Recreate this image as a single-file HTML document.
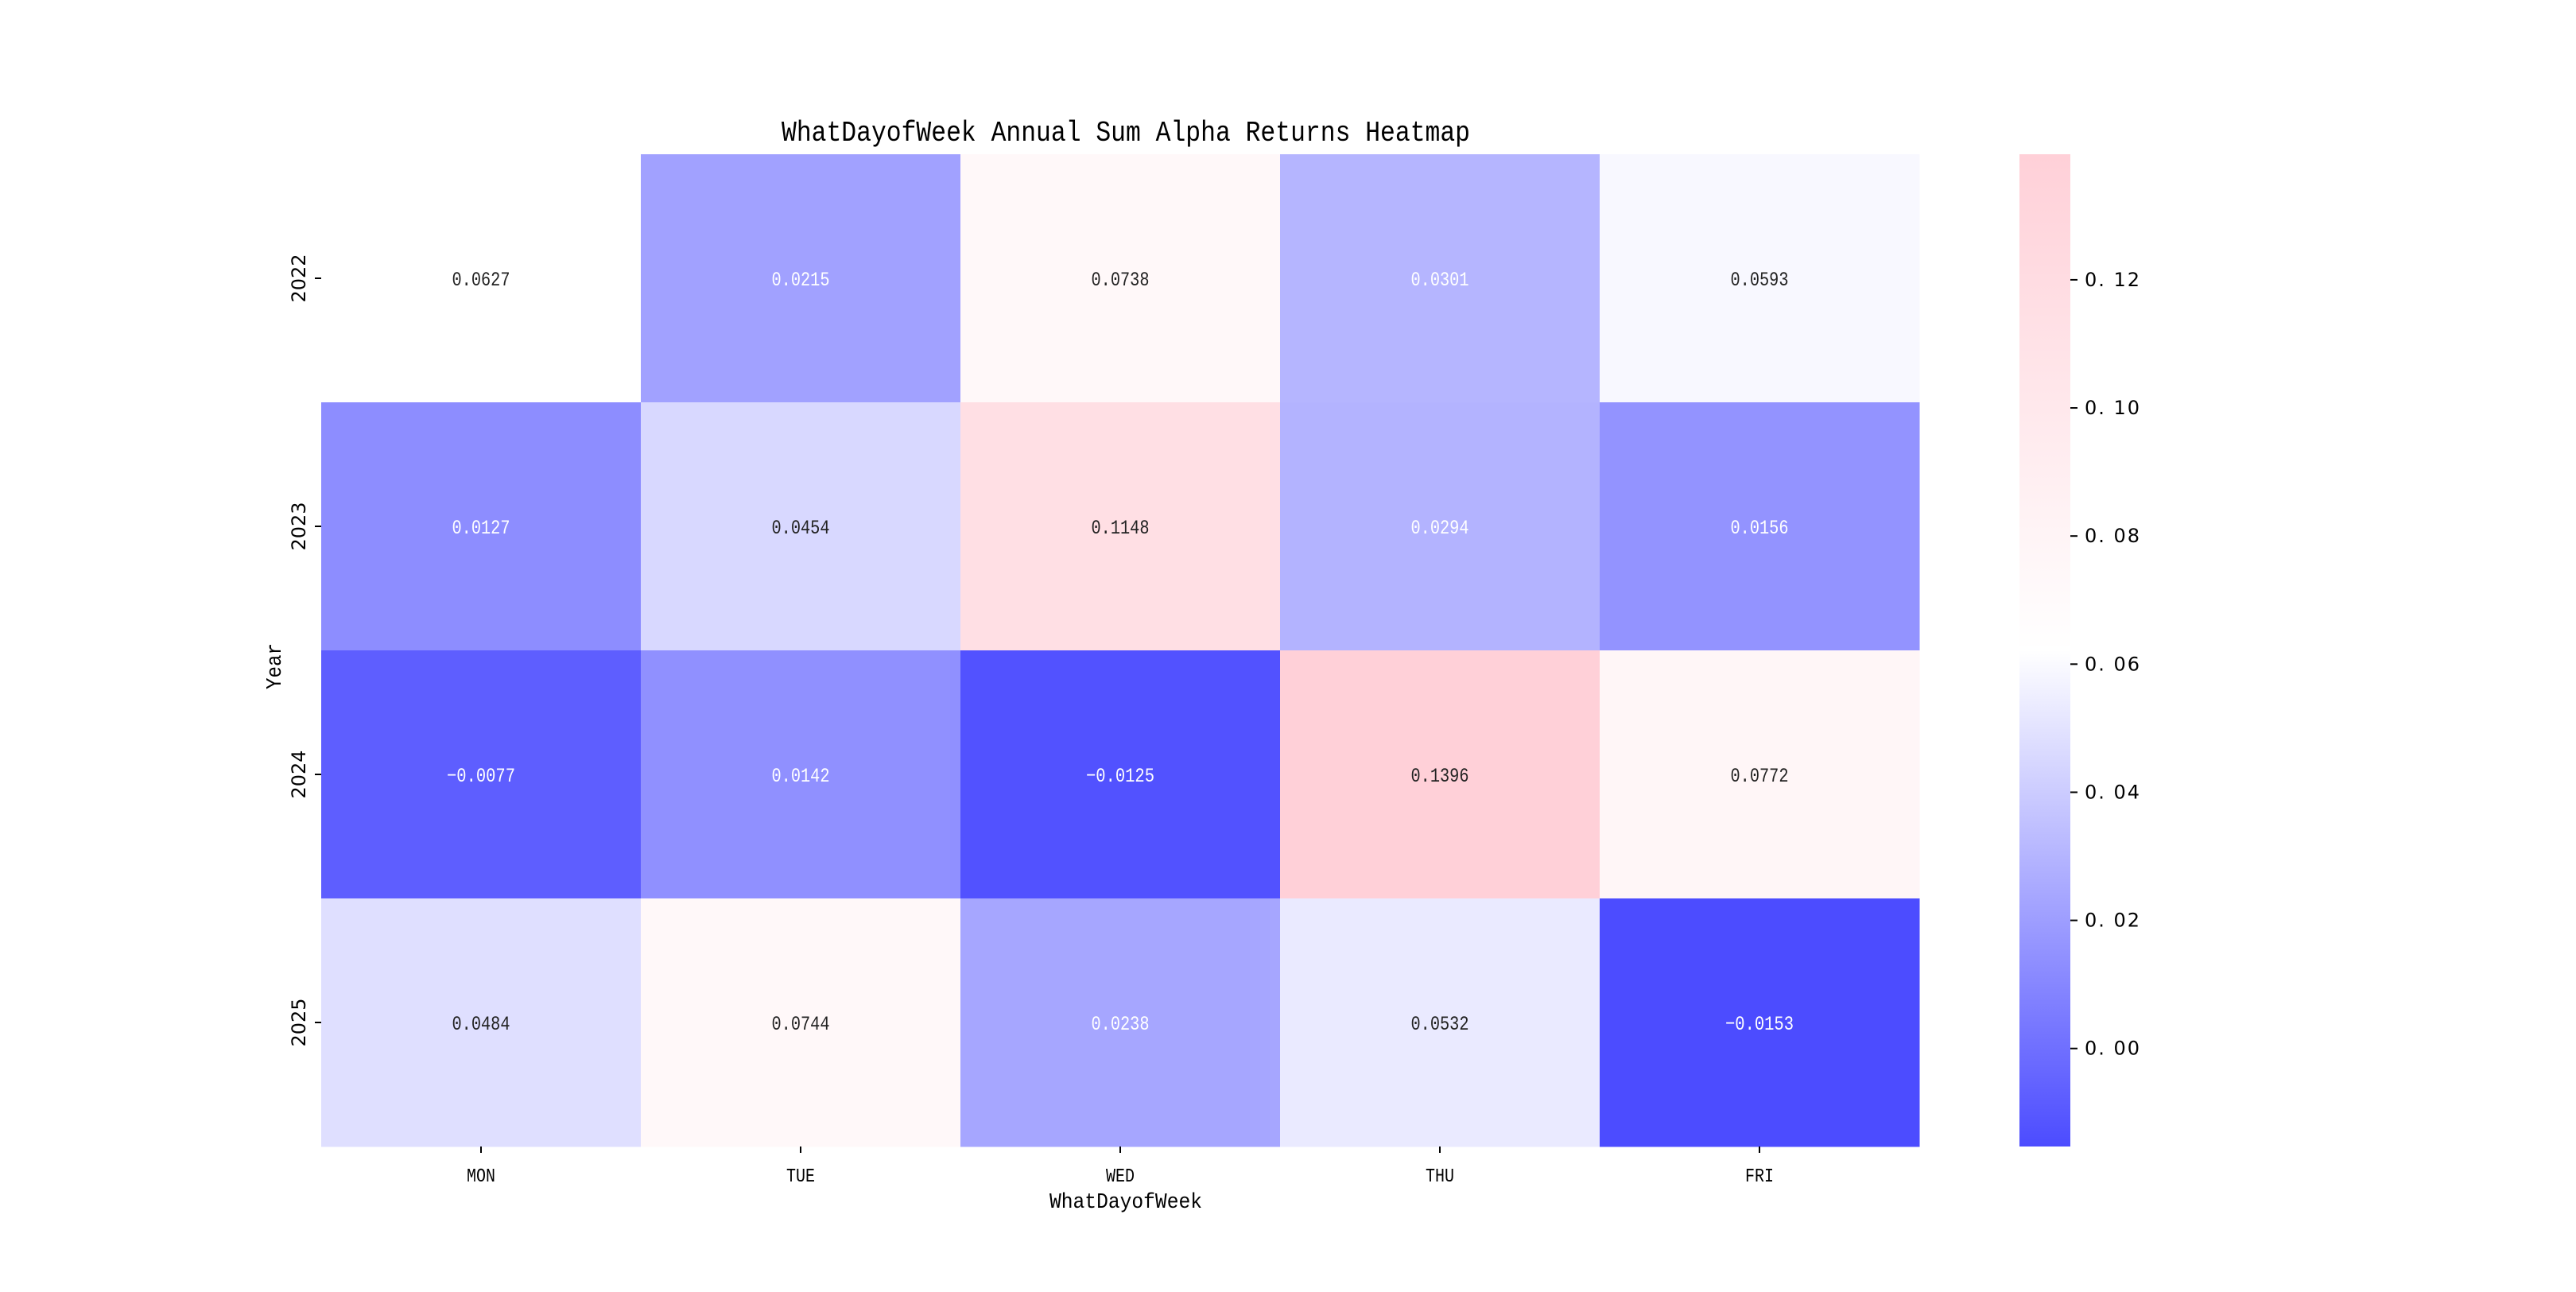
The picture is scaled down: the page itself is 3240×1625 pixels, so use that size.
<!DOCTYPE html>
<html><head><meta charset="utf-8"><style>
html,body{margin:0;padding:0;background:#fff}
svg text{font-family:"Liberation Mono","WenQuanYi Zen Hei",monospace}
</style></head><body>
<svg id="chart" width="3240" height="1620" viewBox="0 0 3240 1620" xmlns="http://www.w3.org/2000/svg">
<defs>
<linearGradient id="cbgrad" x1="0" y1="1" x2="0" y2="0">
<stop offset="0" stop-color="#4c4cff"/><stop offset="0.5" stop-color="#ffffff"/><stop offset="1" stop-color="#ffd0d8"/>
</linearGradient>
</defs>
<text x="1416" y="177" font-size="36" text-anchor="middle" fill="#000" textLength="866" lengthAdjust="spacingAndGlyphs">WhatDayofWeek Annual Sum Alpha Returns Heatmap</text>
<g id="cells"></g>
<g id="axes"></g>
<text x="1416" y="1519" font-size="27" text-anchor="middle" textLength="192" lengthAdjust="spacingAndGlyphs">WhatDayofWeek</text>
<text x="0" y="0" font-size="27" text-anchor="middle" textLength="58" lengthAdjust="spacingAndGlyphs" transform="translate(353,838) rotate(-90)">Year</text>
<rect x="2540" y="194" width="64" height="1248" fill="url(#cbgrad)"/>
<g id="cbticks"></g>
</svg>
<script>
const days = ["MON","TUE","WED","THU","FRI"];
const years = ["2022","2023","2024","2025"];
const row2022 = [0.0627,0.0215,0.0738,0.0301,0.0593];
const row2023 = [0.0127,0.0454,0.1148,0.0294,0.0156];
const row2024 = [-0.0077,0.0142,-0.0125,0.1396,0.0772];
const row2025 = [0.0484,0.0744,0.0238,0.0532,-0.0153];
const cbTicks = [0.00,0.02,0.04,0.06,0.08,0.10,0.12];
const rows = [row2022,row2023,row2024,row2025];
const NS="http://www.w3.org/2000/svg";
const X0=404,X1=2414,Y0=194,Y1=1442;
const all=rows.flat();
const vmin=Math.min(...all),vmax=Math.max(...all);
const cw=(X1-X0)/days.length, ch=(Y1-Y0)/years.length;
const xPos=i=>X0+i*cw, yPos=j=>Y0+j*ch;
const cbY=v=>Y1-(v-vmin)/(vmax-vmin)*(Y1-Y0);
function color(v){
  const t=(v-vmin)/(vmax-vmin);
  let a,b,u;
  if(t<0.5){a=[76,76,255];b=[255,255,255];u=t/0.5;}else{a=[255,255,255];b=[255,208,216];u=(t-0.5)/0.5;}
  return a.map((x,k)=>Math.round(x+(b[k]-x)*u));
}
function mk(tag,attrs,parent){const e=document.createElementNS(NS,tag);for(const k in attrs)e.setAttribute(k,attrs[k]);parent.appendChild(e);return e;}
const cells=document.getElementById('cells');
const axes=document.getElementById('axes');
rows.forEach((r,j)=>r.forEach((v,i)=>{
  const c=color(v);
  const rect=mk('rect',{x:xPos(i),y:yPos(j),width:cw+0.5,height:ch+0.5,fill:`rgb(${c[0]},${c[1]},${c[2]})`},cells);
  
  
  const lum=(0.299*c[0]+0.587*c[1]+0.114*c[2])/255;
  const neg=v<0;
  const t=mk('text',{x:xPos(i)+cw/2,y:yPos(j)+ch/2+9,'font-size':25,'text-anchor':'middle',fill:lum<0.75?'#fff':'#222',textLength:neg?86:73,lengthAdjust:'spacingAndGlyphs'},cells);
  
  
  t.textContent=(neg?'\u2212':'')+Math.abs(v).toFixed(4);
}));
days.forEach((d,i)=>{
  const cx=xPos(i)+cw/2;
  const l=mk('line',{x1:cx,x2:cx,y1:Y1,y2:Y1+8,stroke:'#000','stroke-width':2},axes);
  
  
  const t=mk('text',{x:cx,y:Y1+44,'font-size':24,'text-anchor':'middle',textLength:36,lengthAdjust:'spacingAndGlyphs'},axes);
  
  
  t.textContent=d;
});
years.forEach((yr,j)=>{
  const cy=yPos(j)+ch/2;
  const l=mk('line',{x1:X0-8,x2:X0,y1:cy,y2:cy,stroke:'#000','stroke-width':2},axes);
  
  
  const t=mk('text',{x:0,y:0,'font-size':24,'text-anchor':'middle',transform:`translate(384,${cy}) rotate(-90)`,style:'font-family:"DejaVu Sans",sans-serif'},axes);
  
  
  t.textContent=yr;
});
const cbt=document.getElementById('cbticks');
cbTicks.forEach(v=>{
  const y=cbY(v);
  const l=mk('line',{x1:2604,x2:2613,y1:y,y2:y,stroke:'#000','stroke-width':2},cbt);
  
  
  const t=mk('text',{x:2622,y:y+8,'font-size':24,style:'font-family:"DejaVu Sans",sans-serif;letter-spacing:2px'},cbt);
  
  
  t.textContent=v.toFixed(2).replace('.','. ');
});
</script>
</body></html>
